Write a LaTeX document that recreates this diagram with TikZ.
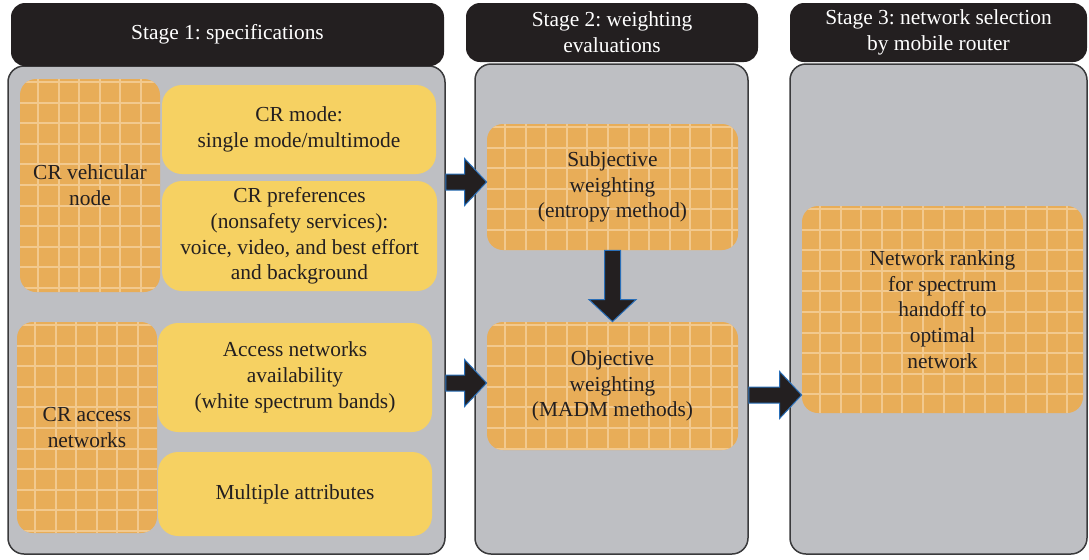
\documentclass[tikz,border=0pt]{standalone}
\usepackage{fontspec}
\setmainfont{Liberation Serif}
\usetikzlibrary{calc}
\frenchspacing

\definecolor{headblack}{HTML}{231F20}
\definecolor{panelgray}{HTML}{BEBFC3}
\definecolor{panelline}{HTML}{3A3A3C}
\definecolor{boxyellow}{HTML}{F6D162}
\definecolor{gridorange}{HTML}{E8AD58}
\definecolor{gridlight}{HTML}{F2C98E}
\definecolor{arrowblue}{HTML}{2A6FB8}

\tikzset{
	boxsize/.style 2 args={minimum width={#1*0.5pt}, minimum height={#2*0.5pt}},
	boxbase/.style={inner sep=0pt, align=center, text=headblack,
		font=\fontsize{10.7}{12.9}\selectfont},
	head/.style={boxbase, fill=headblack, text=white, rounded corners=7pt},
	panel/.style={boxbase, fill=panelgray, draw=panelline, line width=0.75pt, rounded corners=8pt},
	yellowbox/.style={boxbase, fill=boxyellow, rounded corners=10pt},
	gridline/.style={draw=gridlight, line width=1pt},
	gridbox/.style={boxbase, fill=gridorange, rounded corners=8pt,
		path picture={
			\foreach \k in {0,...,14}{
				\draw[gridline] ([xshift={9pt+\k*10.3pt}]path picture bounding box.north west) -- ([xshift={9pt+\k*10.3pt}]path picture bounding box.south west);
				\draw[gridline] ([yshift={-1.5pt-\k*10.3pt}]path picture bounding box.north west) -- ([yshift={-1.5pt-\k*10.3pt}]path picture bounding box.north east);
			}}},
	blockarrow/.style={fill=headblack, draw=arrowblue, line width=0.5pt, line join=miter}
}

\newcommand{\fatarrow}[2]{%
	\path ($(#2)!11pt!(#1)$) coordinate (hb);
	\draw[blockarrow] ($(#1)!4pt!90:(#2)$) -- ($(hb)!4pt!90:(#2)$) -- ($(hb)!11.75pt!90:(#2)$) -- (#2)
		-- ($(hb)!11.75pt!-90:(#2)$) -- ($(hb)!4pt!-90:(#2)$) -- ($(#1)!4pt!-90:(#2)$) -- cycle;}

\begin{document}
\begin{tikzpicture}[x=0.5pt, y=-0.5pt]
	\useasboundingbox (0,0) rectangle (1089,559);
	% stage panels
	\node[panel, boxsize={437}{488}] (p1) at (226.5,310) {};
	\node[panel, boxsize={273}{490}] (p2) at (611.5,309) {};
	\node[panel, boxsize={297}{490}] (p3) at (938.5,309) {};
	\node[head, boxsize={433}{63}] (h1) at (227.5,34.5) {Stage 1: specifications};
	\node[head, boxsize={292}{59}] (h2) at (612,32.5) {Stage 2: weighting\\evaluations};
	\node[head, boxsize={297}{59}] (h3) at (938.5,32.5) {Stage 3: network selection\\by mobile router};
	% stage 1
	\node[gridbox, boxsize={140}{213}] (veh) at (90,185.5) {CR vehicular\\node};
	\node[yellowbox, boxsize={274}{89}] (mode) at (299,129.5) {CR mode:\\single mode/multimode};
	\node[yellowbox, boxsize={275}{110}] (pref) at (299.5,236) {CR preferences\\(nonsafety services):\\voice, video, and best effort\\and background};
	\node[gridbox, boxsize={140}{211}] (acc) at (87,427.5) {CR access\\networks};
	\node[yellowbox, boxsize={274}{109}] (avail) at (295,377.5) {Access networks\\availability\\(white spectrum bands)};
	\node[yellowbox, boxsize={274}{84}] (attr) at (295,494) {Multiple attributes};
	% stage 2
	\node[gridbox, boxsize={251}{126}] (subj) at (612.5,187) {Subjective\\weighting\\(entropy method)};
	\node[gridbox, boxsize={251}{128}] (obj) at (612.5,386) {Objective\\weighting\\(MADM methods)};
	% stage 3
	\node[gridbox, boxsize={281}{207}] (rank) at (942.5,309.5) {Network ranking\\for spectrum\\handoff to\\optimal\\network};
	% arrows
	\coordinate (a1s) at ($(p1.east |- subj.west)+(0,-5)$);
	\coordinate (a1e) at ($(subj.west)+(0,-5)$);
	\coordinate (a2s) at ($(p1.east |- obj.west)+(0,-3)$);
	\coordinate (a2e) at ($(obj.west)+(0,-3)$);
	\coordinate (a3s) at ($(p2.east |- obj.east)+(0,9)$);
	\coordinate (a3e) at ($(rank.west |- obj.east)+(0,9)$);
	\fatarrow{a1s}{a1e}
	\fatarrow{a2s}{a2e}
	\fatarrow{subj.south}{obj.north}
	\fatarrow{a3s}{a3e}
\end{tikzpicture}
\end{document}
